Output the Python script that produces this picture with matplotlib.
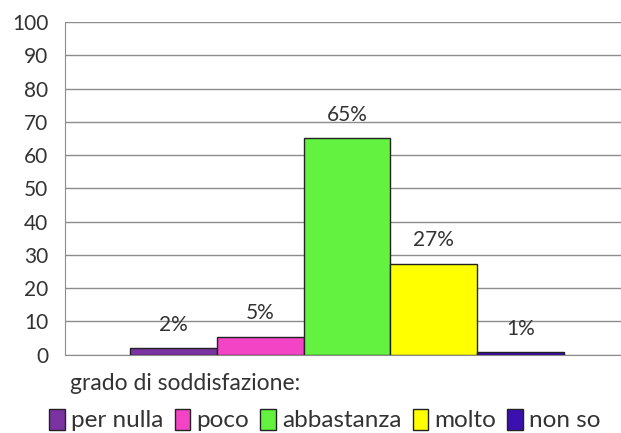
import numpy as np
import matplotlib.pyplot as plt
from matplotlib.patches import Patch

categories = ['per nulla', 'poco', 'abbastanza', 'molto', 'non so']
values = [1.9, 5.3, 65.0, 27.4, 0.7]
value_labels = ['2%', '5%', '65%', '27%', '1%']
colors = ['#7B33A3', '#F244C4', '#63F240', '#FFFF00', '#3A10B0']
yticks = list(range(0, 101, 10))

plt.rcParams['font.family'] = ['Lato', 'DejaVu Sans']
text_color = '#333333'

fig = plt.figure(figsize=(6.21, 4.33), dpi=100)
ax = fig.add_axes([0.1047, 0.181, 0.908, 0.768])

x = np.arange(len(categories)) - 2
bars = ax.bar(x, values, width=1.0, color=colors, edgecolor='#222222', linewidth=1.0, zorder=3)
for b, lab in zip(bars, value_labels):
    ax.annotate(lab, (b.get_x() + b.get_width() / 2, b.get_height()),
                xytext=(0, 17), textcoords='offset points', ha='center', va='center',
                fontsize=15, color=text_color)

ax.set_xlim(-3.25, 3.25)
ax.set_ylim(0, 100)
ax.set_yticks(yticks)
ax.set_xticks([])
ax.tick_params(axis='y', length=0, pad=12, labelsize=15, labelcolor=text_color)
ax.grid(axis='y', color='#8c8c8c', linewidth=1.0, zorder=0)
for s in ['top', 'right']:
    ax.spines[s].set_visible(False)
ax.spines['left'].set_color('#8c8c8c')
ax.spines['bottom'].set_color('#8c8c8c')

fig.text(70 / 621, 1 - 383 / 433, 'grado di soddisfazione:', ha='left', va='center',
         fontsize=16.5, color=text_color)

handles = [Patch(facecolor=c, edgecolor='#222222', linewidth=1.0) for c in colors]
fig.legend(handles, categories, loc='center', bbox_to_anchor=(325 / 621, 1 - 420 / 433),
           ncol=5, frameon=False, fontsize=17.5, handlelength=0.65, handleheight=0.95,
           handletextpad=0.25, columnspacing=0.45, labelcolor=text_color, borderaxespad=0)

fig.savefig('out.png', dpi=100)
